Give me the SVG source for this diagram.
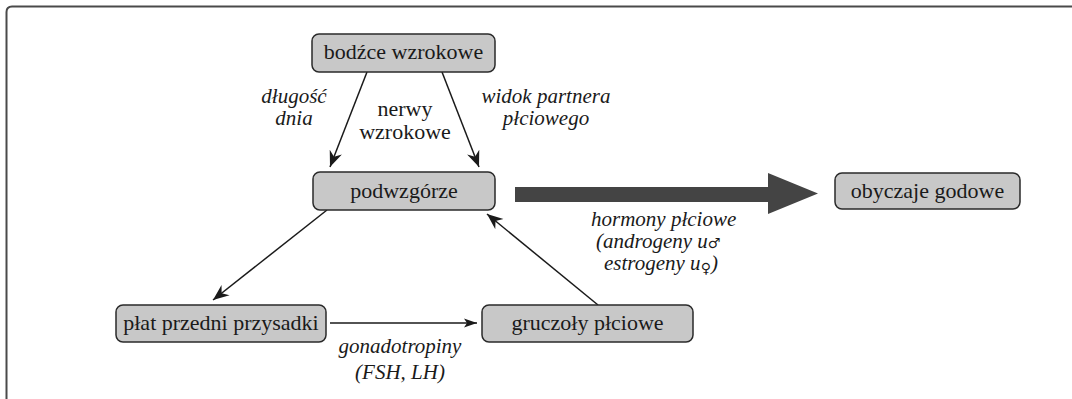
<svg xmlns="http://www.w3.org/2000/svg" width="1072" height="399" viewBox="0 0 1072 399">
<style>
.box{fill:#c8c8c8;stroke:#2a2a2a;stroke-width:1.5}
.t{font-family:"Liberation Serif","Times New Roman",serif;font-size:22px;fill:#1a1a1a;text-anchor:middle}
.i{font-family:"Liberation Serif","Times New Roman",serif;font-size:21px;font-style:italic;fill:#1a1a1a}
.c{text-anchor:middle}
.sym{font-family:"DejaVu Sans",sans-serif;font-style:normal;font-size:14px}
.ln{stroke:#1a1a1a;stroke-width:1.5;fill:none}
</style>
<defs>
<marker id="ah" markerUnits="userSpaceOnUse" viewBox="-16 -7 17 14" refX="0" refY="0" markerWidth="17" markerHeight="14" orient="auto">
<path d="M0,0 L-16,-6.5 L-11,0 L-16,6.5 Z" fill="#1a1a1a"/>
</marker>
<marker id="ah2" markerUnits="userSpaceOnUse" viewBox="-14 -5 15 10" refX="0" refY="0" markerWidth="15" markerHeight="10" orient="auto">
<path d="M0,0 L-13,-4.5 L-10,0 L-13,4.5 Z" fill="#1a1a1a"/>
</marker>
</defs>
<rect width="1072" height="399" fill="#ffffff"/>
<path d="M6.5,399 V12 Q6.5,6.5 12,6.5 H1072" fill="none" stroke="#4a4a4a" stroke-width="2"/>
<g id="connectors">
<line class="ln" x1="367" y1="72" x2="330" y2="167" marker-end="url(#ah)"/>
<line class="ln" x1="442" y1="72" x2="479" y2="167" marker-end="url(#ah)"/>
<line class="ln" x1="327" y1="210" x2="213" y2="300" marker-end="url(#ah)"/>
<line class="ln" x1="598" y1="305" x2="487" y2="214" marker-end="url(#ah)"/>
<line class="ln" x1="330" y1="323" x2="477" y2="323" stroke-width="1.3" marker-end="url(#ah2)"/>
<polygon points="515,187 768,187 768,173 818,193.5 768,214 768,202 515,202" fill="#444444"/>
<text class="i c" x="294" y="103">długość</text>
<text class="i c" x="294" y="125">dnia</text>
<text class="t" x="405" y="116">nerwy</text>
<text class="t" x="405" y="139">wzrokowe</text>
<text class="i c" x="546" y="103">widok partnera</text>
<text class="i c" x="546" y="125">płciowego</text>
<text class="i c" x="400" y="353">gonadotropiny</text>
<text class="i c" x="400" y="379">(FSH, LH)</text>
<text class="i" x="591" y="226">hormony płciowe</text>
<text class="i" x="596" y="248">(androgeny u<tspan class="sym">♂</tspan></text>
<text class="i" x="604" y="270">estrogeny u<tspan class="sym" dy="3">♀</tspan><tspan dy="-3">)</tspan></text>
</g>
<g id="bodzce">
<rect class="box" x="312" y="34" width="183" height="38" rx="7"/>
<text class="t" x="403.5" y="59">bodźce wzrokowe</text>
</g>
<g id="podwzgorze">
<rect class="box" x="313" y="172" width="182" height="38" rx="7"/>
<text class="t" x="404" y="198">podwzgórze</text>
</g>
<g id="obyczaje">
<rect class="box" x="835" y="173" width="185" height="36" rx="7"/>
<text class="t" x="927.5" y="198">obyczaje godowe</text>
</g>
<g id="plat">
<rect class="box" x="116" y="305" width="210" height="37" rx="7"/>
<text class="t" x="221" y="330">płat przedni przysadki</text>
</g>
<g id="gruczoly">
<rect class="box" x="482" y="305" width="211" height="37" rx="7"/>
<text class="t" x="587.5" y="330">gruczoły płciowe</text>
</g>
</svg>
